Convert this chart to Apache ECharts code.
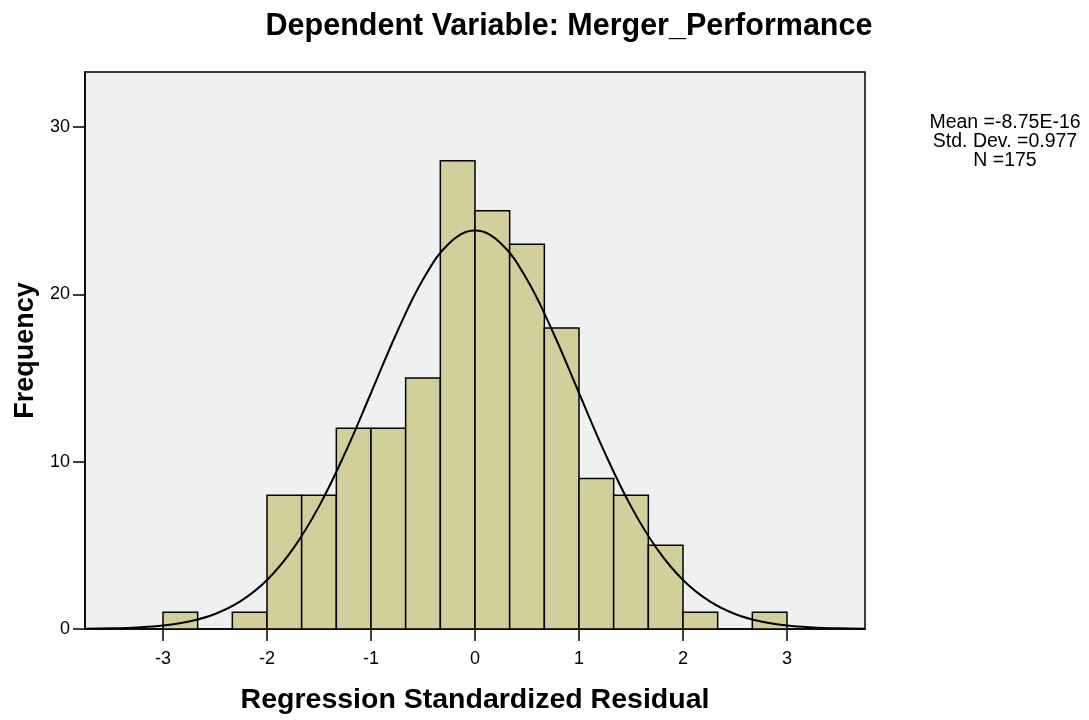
<!DOCTYPE html>
<html>
<head>
<meta charset="utf-8">
<title>Histogram</title>
<script src="https://cdn.jsdelivr.net/npm/echarts@6/dist/echarts.min.js"></script>
<style>
  html, body { margin: 0; padding: 0; background: #ffffff; }
  #main { width: 1089px; height: 720px; }
</style>
</head>
<body>
<div id="main"></div>
<script>
// histogram bins (width 1/3) from -3 to 3
var binStart = [-3, -2.6667, -2.3333, -2, -1.6667, -1.3333, -1, -0.6667, -0.3333,
                0, 0.3333, 0.6667, 1, 1.3333, 1.6667, 2, 2.3333, 2.6667];
var binEnd   = [-2.6667, -2.3333, -2, -1.6667, -1.3333, -1, -0.6667, -0.3333, 0,
                0.3333, 0.6667, 1, 1.3333, 1.6667, 2, 2.3333, 2.6667, 3];
var counts   = [1, 0, 1, 8, 8, 12, 12, 15, 28, 25, 23, 18, 9, 8, 5, 1, 0, 1];

// fitted normal curve, read along x
var curveX = [-3.75, -3.5, -3.25, -3, -2.75, -2.5, -2.25, -2, -1.75, -1.5, -1.25, -1, -0.75, -0.5, -0.25,
              0, 0.25, 0.5, 0.75, 1, 1.25, 1.5, 1.75, 2, 2.25, 2.5, 2.75, 3, 3.25, 3.5, 3.75];
var curveY = [0.015, 0.039, 0.094, 0.21, 0.45, 0.90, 1.68, 2.93, 4.79, 7.33, 10.51, 14.11, 17.74, 20.89, 23.05,
              23.82, 23.05, 20.89, 17.74, 14.11, 10.51, 7.33, 4.79, 2.93, 1.68, 0.90, 0.45, 0.21, 0.094, 0.039, 0.015];

var xTicks = [-3, -2, -1, 0, 1, 2, 3];
var yTicks = [0, 10, 20, 30];
var statsLines = ["Mean =-8.75E-16", "Std. Dev. =0.977", "N =175"];

var barData = [];
for (var i = 0; i < counts.length; i++) {
  if (counts[i] > 0) barData.push([binStart[i], binEnd[i], counts[i]]);
}
var lineData = [];
for (var j = 0; j < curveX.length; j++) lineData.push([curveX[j], curveY[j]]);

var font = "'Liberation Sans', Arial, sans-serif";
var chart = echarts.init(document.getElementById("main"));

chart.setOption({
  animation: false,
  backgroundColor: "#ffffff",
  title: {
    text: "Dependent Variable: Merger_Performance",
    left: 564,
    top: 6,
    textAlign: "center",
    textStyle: { fontFamily: font, fontSize: 30.5, fontWeight: "bold", color: "#000" }
  },
  graphic: [{
    type: "text",
    x: 1005,
    y: 113,
    style: {
      text: statsLines.join("\n"),
      align: "center",
      verticalAlign: "top",
      font: "19.5px " + font,
      lineHeight: 19,
      fill: "#000"
    }
  }],
  grid: {
    left: 85, right: 224, top: 72, bottom: 90,
    show: true,
    backgroundColor: "#f0f0f0",
    borderColor: "#000",
    borderWidth: 1.5
  },
  xAxis: {
    type: "value",
    min: -3.75,
    max: 3.75,
    name: "Regression Standardized Residual",
    nameLocation: "middle",
    nameGap: 57,
    nameTextStyle: { fontFamily: font, fontSize: 28.5, fontWeight: "bold", color: "#000" },
    splitLine: { show: false },
    axisLine: { onZero: false, lineStyle: { color: "#000", width: 1.5 } },
    axisTick: { customValues: xTicks, length: 12, lineStyle: { color: "#000", width: 1.5 } },
    axisLabel: { customValues: xTicks, margin: 21, fontFamily: font, fontSize: 18, color: "#000" }
  },
  yAxis: {
    type: "value",
    min: 0,
    max: 33.3,
    name: "Frequency",
    nameLocation: "middle",
    nameGap: 45,
    nameTextStyle: { fontFamily: font, fontSize: 27, fontWeight: "bold", color: "#000" },
    splitLine: { show: false },
    axisLine: { show: true, onZero: false, lineStyle: { color: "#000", width: 1.5 } },
    axisTick: { show: true, customValues: yTicks, length: 12, lineStyle: { color: "#000", width: 1.5 } },
    axisLabel: { customValues: yTicks, margin: 15, fontFamily: font, fontSize: 18, color: "#000" }
  },
  series: [
    {
      type: "custom",
      data: barData,
      encode: { x: [0, 1], y: 2 },
      renderItem: function (params, api) {
        var p0 = api.coord([api.value(0), 0]);
        var p1 = api.coord([api.value(1), api.value(2)]);
        return {
          type: "rect",
          shape: { x: p0[0], y: p1[1], width: p1[0] - p0[0], height: p0[1] - p1[1] },
          style: { fill: "#d3cf9a", stroke: "#000", lineWidth: 1.5 }
        };
      }
    },
    {
      type: "line",
      data: lineData,
      smooth: 0.4,
      showSymbol: false,
      lineStyle: { color: "#000", width: 2 },
      z: 5
    }
  ]
});
</script>
</body>
</html>
